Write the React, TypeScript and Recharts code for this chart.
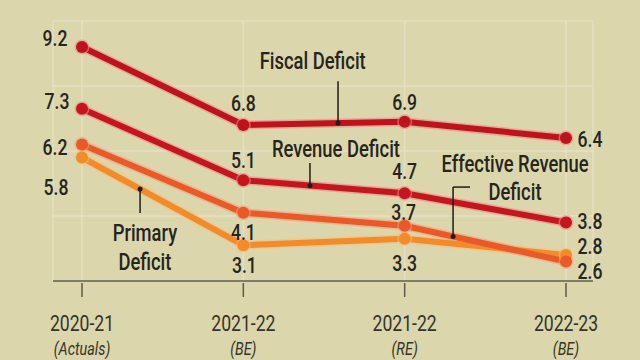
import React from "react";
import {
  LineChart,
  Line,
  XAxis,
  YAxis,
  CartesianGrid,
  LabelList,
  ReferenceLine,
  ReferenceDot,
} from "recharts";

// ---- data ----
const periods = ["2020-21", "2021-22", "2021-22", "2022-23"];
const periodNotes = ["(Actuals)", "(BE)", "(RE)", "(BE)"];
const fiscalDeficit = [9.2, 6.8, 6.9, 6.4];
const revenueDeficit = [7.3, 5.1, 4.7, 3.8];
const effectiveRevenueDeficit = [6.2, 4.1, 3.7, 2.6];
const primaryDeficit = [5.8, 3.1, 3.3, 2.8];
const yTicks = [2, 4, 6, 8, 10];

const data = periods.map((p, i) => ({
  x: i,
  period: p,
  note: periodNotes[i],
  fiscal: fiscalDeficit[i],
  revenue: revenueDeficit[i],
  erd: effectiveRevenueDeficit[i],
  primary: primaryDeficit[i],
}));

// ---- styles ----
const FONT = "Roboto, 'Liberation Sans', sans-serif";
const TEXT = "#26251c";
const BG = "#dbd6ac";

// condensed text helper
const CText = ({
  x,
  y,
  size = 22,
  weight = 500,
  italic = false,
  fill = TEXT,
  sx = 0.8,
  children,
}: any) => (
  <text
    transform={`translate(${x},${y}) scale(${sx},1)`}
    textAnchor="middle"
    fontFamily={FONT}
    fontSize={size}
    fontWeight={weight}
    fontStyle={italic ? "italic" : "normal"}
    fill={fill}
  >
    {children}
  </text>
);

type SeriesDef = {
  key: string;
  color: string;
  halo: string;
  offsets: [number, number][];
};

const series: SeriesDef[] = [
  { key: "primary", color: "#f18b2b", halo: "#f7c27c", offsets: [[-26, 29], [1, 20], [0, 24], [24, -9]] },
  { key: "erd", color: "#e85a27", halo: "#f3a07a", offsets: [[-27, 2], [0, 19], [-1, -14], [24, 9]] },
  { key: "revenue", color: "#c4161f", halo: "#ec8a86", offsets: [[-25, -8], [0, -20], [0, -22], [24, -2]] },
  { key: "fiscal", color: "#bd131d", halo: "#ec8a86", offsets: [[-27, -9], [0, -22], [0, -20], [24, 1]] },
];

const makeLabel = (offsets: [number, number][]) => (props: any) => {
  const { x, y, value, index } = props;
  const [dx, dy] = offsets[index] || [0, 0];
  return (
    <CText x={x + dx} y={y + dy + 8} size={22}>
      {value}
    </CText>
  );
};

const XTick = (props: any) => {
  const { x, y, payload } = props;
  const i = payload.value as number;
  return (
    <g>
      <line x1={x} y1={y - 6} x2={x} y2={y + 8} stroke="#5d5c48" strokeWidth={1.5} />
      <CText x={x} y={y + 42} size={22} weight={400} fill="#353429">
        {periods[i]}
      </CText>
      <CText x={x} y={y + 66} size={18} weight={400} italic fill="#353429">
        {periodNotes[i]}
      </CText>
    </g>
  );
};

// annotations in data units
const textNotes = [
  { x: 1.43, y: 8.52, text: "Fiscal Deficit" },
  { x: 1.574, y: 5.82, text: "Revenue Deficit" },
  { x: 2.684, y: 5.35, text: "Effective Revenue" },
  { x: 2.684, y: 4.49, text: "Deficit" },
  { x: 0.39, y: 3.22, text: "Primary" },
  { x: 0.39, y: 2.34, text: "Deficit" },
];

const leaders = [
  { pts: [[1.587, 8.15], [1.587, 6.86]] },
  { pts: [[1.413, 5.63], [1.413, 4.93]] },
  { pts: [[2.405, 4.89], [2.3, 4.89], [2.3, 3.37]] },
  { pts: [[0.36, 4.83], [0.36, 4.09]] },
];
const leaderDots = [
  [1.587, 6.86],
  [1.413, 4.93],
  [2.3, 3.37],
  [0.36, 4.83],
];

export default function App() {
  return (
    <div style={{ position: "absolute", left: 0, top: 0, width: 640, height: 360, background: BG }}>
      <LineChart
        width={640}
        height={360}
        data={data}
        margin={{ top: 21, right: 47, bottom: 19, left: 53 }}
      >
        <CartesianGrid stroke="#e5e0c2" strokeWidth={1.5} vertical horizontal />
        <XAxis
          dataKey="x"
          type="number"
          domain={[0, 3]}
          ticks={[0, 1, 2, 3]}
          padding={{ left: 29, right: 27 }}
          height={60}
          axisLine={{ stroke: "#5d5c48", strokeWidth: 1.5 }}
          tickLine={false}
          tick={<XTick />}
          interval={0}
        />
        <YAxis hide domain={[2, 10]} ticks={yTicks} />
        {series.map((s) => (
          <Line
            key={s.key + "-halo"}
            dataKey={s.key}
            stroke={s.halo}
            strokeWidth={9}
            strokeOpacity={0.6}
            dot={{ r: 7.5, fill: s.halo, fillOpacity: 0.6, stroke: "none" }}
            isAnimationActive={false}
            activeDot={false}
          />
        ))}
        {series.map((s) => (
          <Line
            key={s.key}
            dataKey={s.key}
            stroke={s.color}
            strokeWidth={6}
            dot={{ r: 6, fill: s.color, stroke: "none" }}
            isAnimationActive={false}
            activeDot={false}
          >
            <LabelList dataKey={s.key} content={makeLabel(s.offsets)} />
          </Line>
        ))}
        {leaders.map((l, li) =>
          l.pts.slice(1).map((p, k) => (
            <ReferenceLine
              key={"ld" + li + "-" + k}
              segment={[
                { x: l.pts[k][0], y: l.pts[k][1] },
                { x: p[0], y: p[1] },
              ]}
              stroke="#1e1d16"
              strokeWidth={1.5}
              ifOverflow="visible"
            />
          ))
        )}
        {leaderDots.map((d, i) => (
          <ReferenceDot key={"dot" + i} x={d[0]} y={d[1]} r={2.5} fill="#1e1d16" stroke="none" ifOverflow="visible" />
        ))}
        {textNotes.map((t, i) => (
          <ReferenceDot
            key={"tn" + i}
            x={t.x}
            y={t.y}
            r={0}
            ifOverflow="visible"
            shape={(p: any) => (
              <CText x={p.cx} y={p.cy} size={23}>
                {t.text}
              </CText>
            )}
          />
        ))}
      </LineChart>
    </div>
  );
}
